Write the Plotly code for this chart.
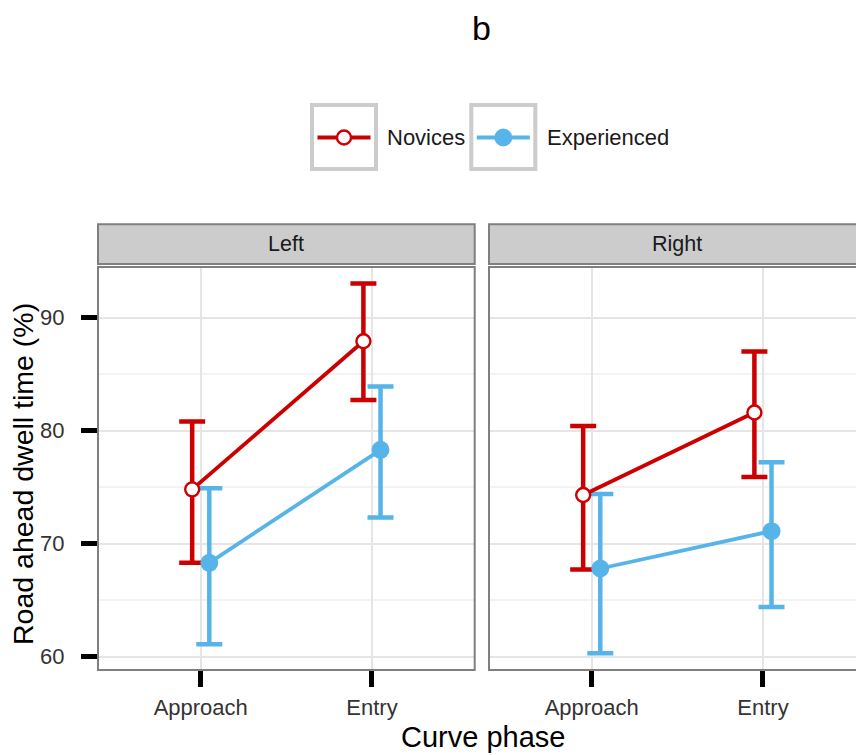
import plotly.graph_objects as go

# ---- data: road-ahead dwell time (%) with 95% CI, by curve direction and phase ----
phases = ["Approach", "Entry"]
curves = ["Left", "Right"]
groups = ["Novices", "Experienced"]

novices_mean = {"Left": [74.8, 87.9], "Right": [74.3, 81.6]}
novices_low = {"Left": [68.3, 82.7], "Right": [67.7, 75.9]}
novices_high = {"Left": [80.8, 93.0], "Right": [80.4, 87.0]}

experienced_mean = {"Left": [68.3, 78.3], "Right": [67.8, 71.1]}
experienced_low = {"Left": [61.1, 72.3], "Right": [60.3, 64.4]}
experienced_high = {"Left": [74.9, 83.9], "Right": [74.4, 77.2]}

y_ticks = [60, 70, 80, 90]
y_minor = [65, 75, 85]

# ---- styling ----
RED = "#CC0000"
BLUE = "#56B4E9"
FONT = "Liberation Sans, Arial, Helvetica, sans-serif"
FRAME = "#7F7F7F"

W, H = 856, 755
ML, MR, MT, MB = 98, 0, 267, 85
PW, PH = W - ML - MR, H - MT - MB


def px_x(px):
    return (px - ML) / PW


def px_y(py):
    return (H - MB - py) / PH


panel_w = 376.7
left_dom = [0, px_x(ML + panel_w)]
right_start = 489
right_dom = [px_x(right_start), 1]
x_range_full = [0.4, 2.6]
x_range_right = [0.4, 0.4 + 2.2 * (W - right_start) / panel_w]
y_range = [58.82, 94.47]
dodge = 0.05

series = {
    "Novices": (novices_mean, novices_low, novices_high, RED, -dodge),
    "Experienced": (experienced_mean, experienced_low, experienced_high, BLUE, dodge),
}

fig = go.Figure()
axes = {"Left": ("x", "y"), "Right": ("x2", "y2")}

# error bars, then connecting lines, then points (layer order)
for layer in ["err", "line", "pt"]:
    for curve in curves:
        xa, ya = axes[curve]
        for g in groups:
            mean, low, high, col, off = series[g]
            m = mean[curve]
            xs = [i + 1 + off for i in range(len(phases))]
            if layer == "err":
                fig.add_trace(go.Scatter(
                    x=xs, y=m, xaxis=xa, yaxis=ya, mode="markers",
                    marker=dict(size=1, color="rgba(0,0,0,0)"),
                    error_y=dict(type="data", symmetric=False,
                                 array=[h - v for h, v in zip(high[curve], m)],
                                 arrayminus=[v - l for v, l in zip(m, low[curve])],
                                 color=col, thickness=4.5, width=13),
                    showlegend=False, hoverinfo="skip"))
            elif layer == "line":
                fig.add_trace(go.Scatter(
                    x=xs, y=m, xaxis=xa, yaxis=ya, mode="lines",
                    line=dict(color=col, width=3.8),
                    showlegend=False, hoverinfo="skip"))
            else:
                if g == "Novices":
                    mk = dict(size=14, color="white", line=dict(color=col, width=2.4))
                else:
                    mk = dict(size=18, color=col, line=dict(width=0))
                fig.add_trace(go.Scatter(
                    x=xs, y=m, xaxis=xa, yaxis=ya, mode="markers", marker=mk,
                    name=g, showlegend=False))

tickfont = dict(family=FONT, size=22, color="#333333")
xcommon = dict(tickmode="array", tickvals=[1, 2], ticktext=phases,
               showgrid=True, gridcolor="#E5E5E5", gridwidth=1.5,
               zeroline=False, showline=False, ticks="outside", ticklen=16,
               tickwidth=4.7, tickcolor="black", tickfont=tickfont,
               ticklabelstandoff=2)
ycommon = dict(range=y_range, tickmode="array", tickvals=y_ticks,
               showgrid=True, gridcolor="#E5E5E5", gridwidth=1.5,
               minor=dict(tickmode="array", tickvals=y_minor, showgrid=True,
                          gridcolor="#F3F3F3", gridwidth=1.5, ticks=""),
               zeroline=False, showline=False)

fig.update_layout(
    width=W, height=H,
    margin=dict(l=ML, r=MR, t=MT, b=MB, pad=0),
    paper_bgcolor="white", plot_bgcolor="white",
    showlegend=False,
    xaxis=dict(domain=left_dom, range=x_range_full, anchor="y", **xcommon),
    xaxis2=dict(domain=right_dom, range=x_range_right, anchor="y2", **xcommon),
    yaxis=dict(anchor="x", ticks="outside", ticklen=16, tickwidth=4.7,
               tickcolor="black", tickfont=tickfont, ticklabelstandoff=12, **ycommon),
    yaxis2=dict(anchor="x2", matches="y", showticklabels=False, ticks="", **ycommon),
)

shapes = []
annotations = []

# panel frames and facet strips
for curve, dom in (("Left", left_dom), ("Right", [right_dom[0], 1.05])):
    shapes.append(dict(type="rect", xref="paper", yref="paper",
                       x0=dom[0], x1=dom[1], y0=0, y1=1,
                       line=dict(color=FRAME, width=2), layer="above"))
    shapes.append(dict(type="rect", xref="paper", yref="paper",
                       x0=dom[0], x1=dom[1], y0=px_y(264), y1=px_y(224.3),
                       fillcolor="#CCCCCC", line=dict(color=FRAME, width=2),
                       layer="above"))
    cx = (dom[0] + (dom[1] if curve == "Left" else px_x(right_start + panel_w))) / 2
    annotations.append(dict(text=curve, xref="paper", yref="paper", x=cx,
                            y=px_y(244), xanchor="center", yanchor="middle",
                            showarrow=False,
                            font=dict(family=FONT, size=21.5, color="#1A1A1A")))

# legend: keyed boxes with line + point glyphs
legend_items = [("Novices", RED, 312, 376, 385), ("Experienced", BLUE, 471.3, 535.3, 545)]
ly = 137.5
for name, col, bx0, bx1, tx in legend_items:
    shapes.append(dict(type="rect", xref="paper", yref="paper",
                       x0=px_x(bx0), x1=px_x(bx1), y0=px_y(169), y1=px_y(105),
                       line=dict(color="#CCCCCC", width=4), fillcolor="white"))
    cx = (bx0 + bx1) / 2
    shapes.append(dict(type="line", xref="paper", yref="paper",
                       x0=px_x(cx - 26.5), x1=px_x(cx + 26.5),
                       y0=px_y(ly), y1=px_y(ly), line=dict(color=col, width=4)))
    if name == "Novices":
        circ = dict(fillcolor="white", line=dict(color=col, width=2.4), r=7)
    else:
        circ = dict(fillcolor=col, line=dict(color=col, width=0), r=9)
    r = circ.pop("r")
    shapes.append(dict(type="circle", xref="paper", yref="paper",
                       xsizemode="pixel", ysizemode="pixel",
                       xanchor=px_x(cx), yanchor=px_y(ly),
                       x0=-r, x1=r, y0=-r, y1=r, **circ))
    annotations.append(dict(text=name, xref="paper", yref="paper", x=px_x(tx),
                            y=px_y(ly), xanchor="left", yanchor="middle",
                            showarrow=False,
                            font=dict(family=FONT, size=22, color="#1A1A1A")))

# titles
annotations.append(dict(text="b", xref="paper", yref="paper", x=px_x(481.5),
                        y=px_y(28), xanchor="center", yanchor="middle",
                        showarrow=False, font=dict(family=FONT, size=34, color="black")))
annotations.append(dict(text="Curve phase", xref="paper", yref="paper",
                        x=px_x(483), y=px_y(737), xanchor="center", yanchor="middle",
                        showarrow=False, font=dict(family=FONT, size=29, color="black")))
annotations.append(dict(text="Road ahead dwell time (%)", xref="paper", yref="paper",
                        x=px_x(23), y=px_y(474), xanchor="center", yanchor="middle",
                        textangle=-90, showarrow=False,
                        font=dict(family=FONT, size=28.5, color="black")))

fig.update_layout(shapes=shapes, annotations=annotations)
fig.write_html("out.html")
